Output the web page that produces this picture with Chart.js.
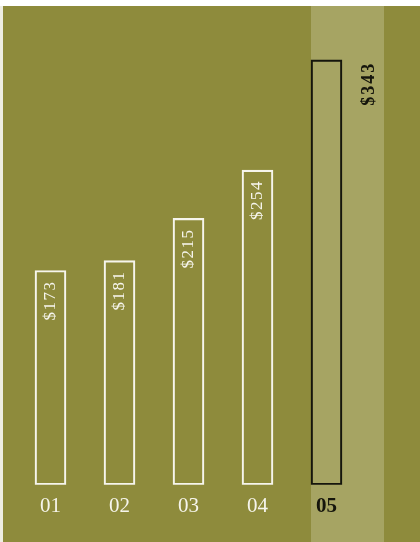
<!DOCTYPE html>
<html>
<head>
<meta charset="utf-8">
<script src="https://cdn.jsdelivr.net/npm/chart.js@4"></script>
<style>
    html, body { margin: 0; padding: 0; background: #ffffff; }
    #wrap {
        position: absolute;
        left: 0; top: 6px;
        width: 417px; height: 536px;
        border-left: 3px solid #eeede3;
    }
    canvas { display: block; }
</style>
</head>
<body>
<div id="wrap"><canvas id="barChart" width="417" height="536"></canvas></div>
<script>
// Données du graphique
const categories = ["01", "02", "03", "04", "05"];
const values = [173, 181, 215, 254, 343];
const valueLabels = ["$173", "$181", "$215", "$254", "$343"];
const highlightIndex = 4;

const OLIVE = "#8e8b3c";
const BAND = "#a6a463";
const LIGHT = "#f6f5ec";
const DARK = "#15150c";

// ======================================================
// Plugin : fond, bande de mise en avant, étiquettes de valeur
// ======================================================
const decorPlugin = {
    id: 'decor',
    beforeDraw(chart) {
        const ctx = chart.ctx;
        ctx.save();
        ctx.fillStyle = OLIVE;
        ctx.fillRect(0, 0, chart.width, chart.height);

        // Bande claire derrière la barre mise en avant (avant les axes)
        const bar = chart.getDatasetMeta(0).data[highlightIndex];
        const left = bar.x - bar.width / 2;
        ctx.fillStyle = BAND;
        ctx.fillRect(left, 0, 73, chart.height);
        ctx.restore();
    },
    afterDatasetsDraw(chart) {
        const ctx = chart.ctx;
        const bars = chart.getDatasetMeta(0).data;
        ctx.save();
        bars.forEach((bar, i) => {
            const hi = i === highlightIndex;
            ctx.save();
            // Étiquette hors barre pour la barre mise en avant
            const x = hi ? bar.x + 43 : bar.x;
            const y = hi ? bar.y + 2 : bar.y + 10;
            ctx.translate(x, y);
            ctx.rotate(-Math.PI / 2);
            ctx.font = hi ? "bold 18px 'Liberation Serif'" : "17px 'Liberation Serif'";
            ctx.letterSpacing = hi ? "2px" : "1.5px";
            ctx.fillStyle = hi ? DARK : LIGHT;
            ctx.textAlign = 'right';
            ctx.textBaseline = 'middle';
            ctx.fillText(valueLabels[i], 0, 0);
            ctx.restore();
        });
        ctx.restore();
    }
};

// ======================================================
// Graphique
// ======================================================
const ctx = document.getElementById('barChart').getContext('2d');

new Chart(ctx, {
    type: 'bar',
    data: {
        labels: categories,
        datasets: [{
            data: values,
            backgroundColor: 'rgba(0,0,0,0)',
            borderColor: values.map((v, i) => i === highlightIndex ? DARK : LIGHT),
            borderWidth: 1.5,
            borderSkipped: false,
            barThickness: 31
        }]
    },
    options: {
        responsive: false,
        animation: false,
        layout: {
            padding: { top: 8, left: 13, right: 59, bottom: 14 }
        },
        plugins: {
            legend: { display: false },
            tooltip: { enabled: false }
        },
        scales: {
            x: {
                grid: { display: false, drawTicks: false },
                border: { display: false },
                ticks: {
                    padding: 9,
                    maxRotation: 0,
                    autoSkip: false,
                    color: (c) => c.index === highlightIndex ? DARK : LIGHT,
                    font: (c) => ({
                        family: "'Liberation Serif'",
                        size: 21,
                        weight: c.index === highlightIndex ? 'bold' : 'normal'
                    })
                }
            },
            y: {
                display: false,
                min: 0,
                max: 380
            }
        }
    },
    plugins: [decorPlugin]
});
</script>
</body>
</html>
